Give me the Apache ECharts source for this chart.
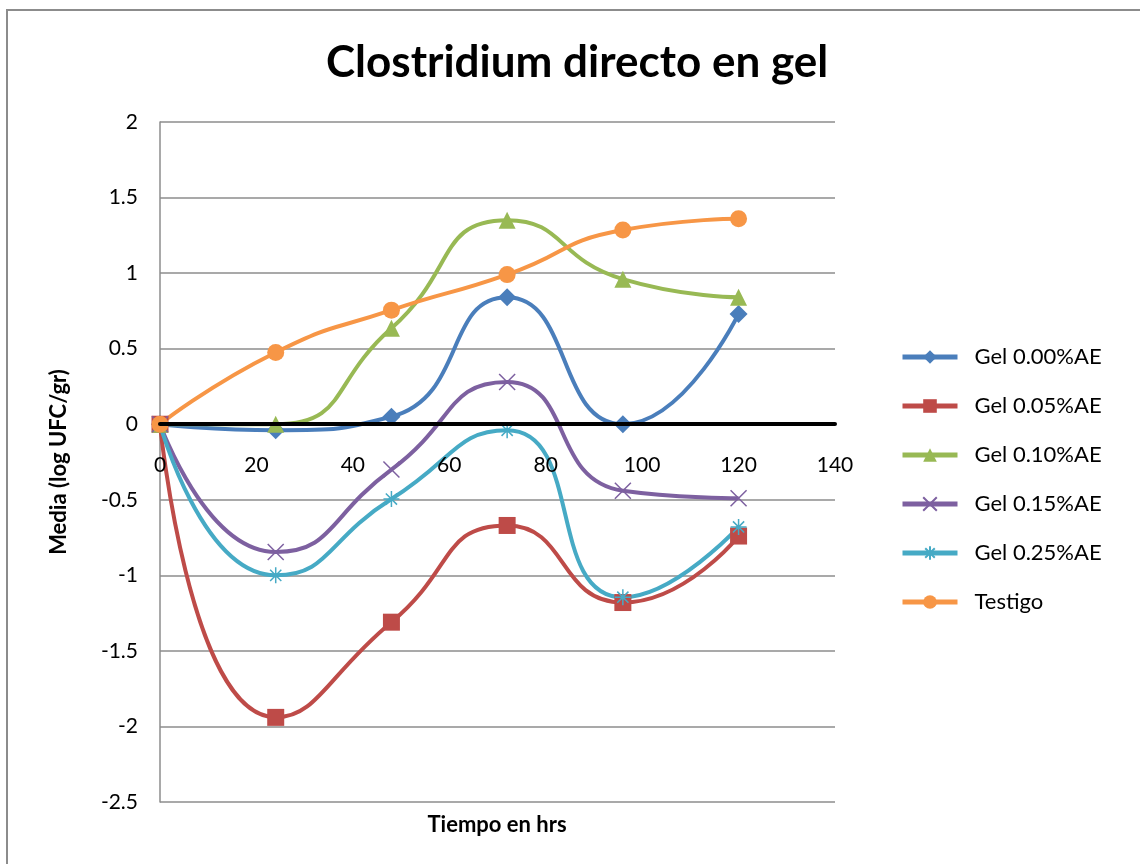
<!DOCTYPE html>
<html>
<head>
<meta charset="utf-8">
<script src="https://cdn.jsdelivr.net/npm/echarts@6/dist/echarts.min.js"></script>
<style>
  html, body { margin: 0; padding: 0; background: #fff; }
  #chart { width: 1140px; height: 864px; }
</style>
</head>
<body>
<div id="chart"></div>
<script>
var hours = [0, 24, 48, 72, 96, 120];
var gel000 = [0, -0.04, 0.05, 0.84, 0, 0.73];
var gel005 = [0, -1.94, -1.31, -0.67, -1.18, -0.74];
var gel010 = [0, 0, 0.635, 1.35, 0.96, 0.84];
var gel015 = [0, -0.845, -0.30, 0.28, -0.44, -0.49];
var gel025 = [0, -1.0, -0.495, -0.04, -1.145, -0.68];
var testigo = [0, 0.475, 0.755, 0.99, 1.285, 1.36];

var names = ['Gel 0.00%AE', 'Gel 0.05%AE', 'Gel 0.10%AE', 'Gel 0.15%AE', 'Gel 0.25%AE', 'Testigo'];
var values = [gel000, gel005, gel010, gel015, gel025, testigo];
var colors = ['#4A7EBB', '#BE4B48', '#98B954', '#7D60A0', '#46AAC5', '#F79646'];

var crossPath = 'path://M0,0 L10,10 M10,0 L0,10';
var starPath = 'path://M5,0 L5,10 M0,5 L10,5 M1.5,1.5 L8.5,8.5 M8.5,1.5 L1.5,8.5';
var symbols = ['diamond', 'rect', 'triangle', crossPath, starPath, 'circle'];
var sizes = [18, 17, 17, 16, 16, 17];

function pairs(ys) {
    return hours.map(function(h, i) { return [h, ys[i]]; });
}

var series = names.map(function(n, i) {
    var lined = i === 3 || i === 4;
    return {
        name: n,
        type: 'line',
        smooth: 0.55,
        data: pairs(values[i]),
        symbol: symbols[i],
        symbolSize: sizes[i],
        showAllSymbol: true,
        lineStyle: { color: colors[i], width: 4 },
        itemStyle: lined
            ? { color: 'rgba(0,0,0,0)', borderColor: colors[i], borderWidth: 1.5 }
            : { color: colors[i] },
        emphasis: { disabled: true }
    };
});

var chart = echarts.init(document.getElementById('chart'), null, { renderer: 'canvas' });
chart.setOption({
    animation: false,
    backgroundColor: '#fff',
    textStyle: { fontFamily: 'Lato' },
    title: {
        text: 'Clostridium directo en gel',
        left: 321,
        top: 36,
        textStyle: { fontFamily: 'Lato', fontSize: 44, fontWeight: 'bold', color: '#000' }
    },
    grid: { left: 160, right: 305, top: 122, bottom: 62 },
    legend: {
        orient: 'vertical',
        left: 895,
        top: 341,
        itemWidth: 55,
        itemHeight: 17,
        itemGap: 27,
        textStyle: { fontFamily: 'Lato', fontSize: 22, color: '#000', padding: [0, 0, 0, 12] },
        lineStyle: { width: 5 },
        data: names
    },
    xAxis: {
        type: 'value',
        min: 0,
        max: 140,
        interval: 20,
        z: 5,
        position: 'bottom',
        offset: -378,
        axisLine: { onZero: false, lineStyle: { color: '#000', width: 4 } },
        axisTick: { show: false },
        splitLine: { show: false },
        axisLabel: { fontFamily: 'Lato', fontSize: 21, color: '#000', margin: 31 }
    },
    yAxis: {
        type: 'value',
        min: -2.5,
        max: 2,
        interval: 0.5,
        name: 'Media (log UFC/gr)',
        nameLocation: 'middle',
        nameGap: 90,
        nameTextStyle: { fontFamily: 'Lato', fontSize: 22, fontWeight: 'bold', color: '#000' },
        axisLine: { show: true, onZero: false, lineStyle: { color: '#8c8c8c', width: 1.5 } },
        axisTick: { show: false },
        splitLine: { show: true, lineStyle: { color: '#8c8c8c', width: 1.5 } },
        axisLabel: { fontFamily: 'Lato', fontSize: 21, color: '#000', margin: 22 }
    },
    graphic: [
        {
            type: 'rect',
            shape: { x: 7, y: 10, width: 1160, height: 900 },
            style: { fill: 'none', stroke: '#8c8c8c', lineWidth: 2 },
            silent: true
        },
        {
            type: 'text',
            x: 497,
            y: 825,
            style: {
                text: 'Tiempo en hrs', font: 'bold 22px Lato', fill: '#000',
                align: 'center', verticalAlign: 'middle'
            },
            silent: true
        }
    ],
    series: series
});
</script>
</body>
</html>
